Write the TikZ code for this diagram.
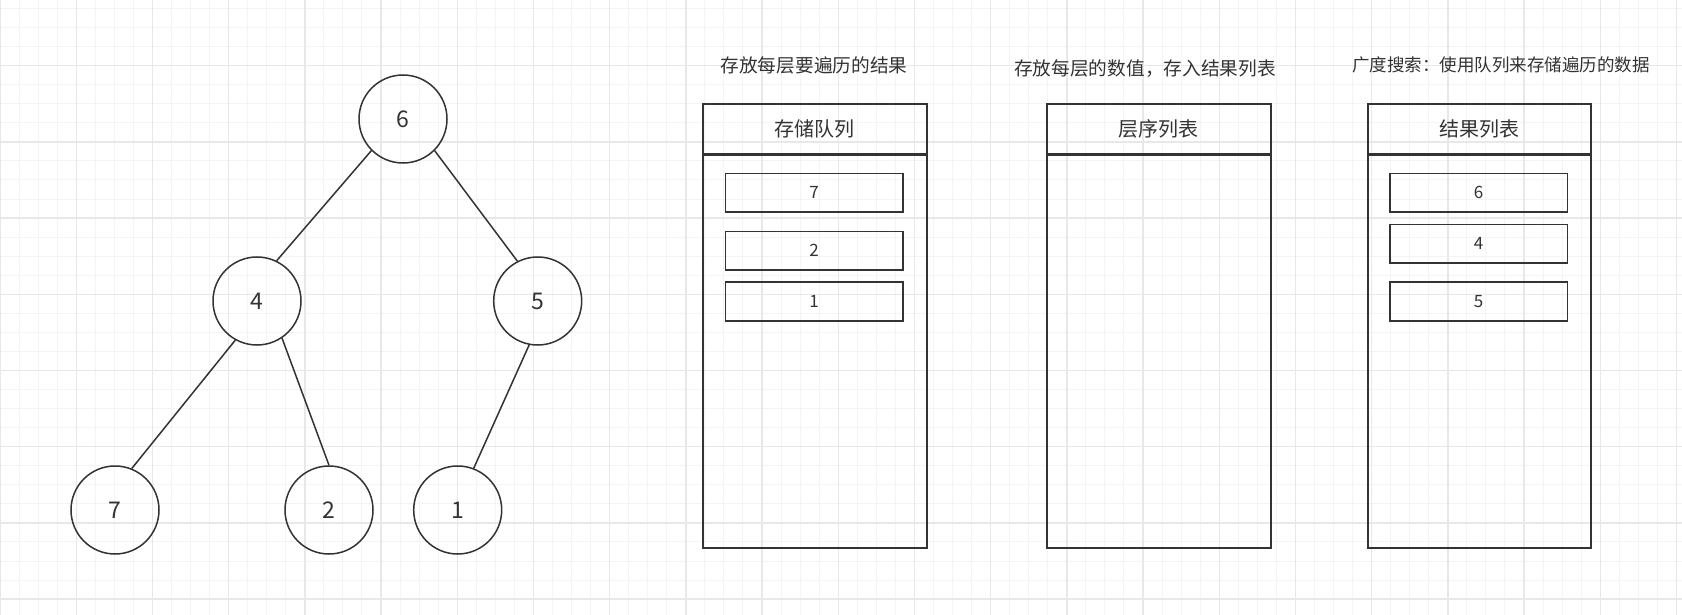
\documentclass[tikz,border=0pt]{standalone}
\usepackage{fontspec}
\setmainfont{Noto Sans CJK SC}
\definecolor{ink}{HTML}{333333}
\definecolor{gminor}{HTML}{F4F4F4}
\definecolor{gmajor}{HTML}{E8E8E8}
\begin{document}
\begin{tikzpicture}[x=1pt,y=-1pt,
  treenode/.style={circle, draw=ink, line width=1.5pt, minimum size=88pt, inner sep=0pt, font=\fontsize{23}{23}\selectfont, text=ink},
  edge/.style={draw=ink, line width=1.5pt},
  panel/.style={rectangle, draw=ink, line width=2.4pt, minimum width=223.5pt, inner sep=0pt, anchor=north west},
  item/.style={rectangle, draw=ink, line width=1.7pt, minimum width=177.7pt, minimum height=38.5pt, inner sep=0pt, font=\fontsize{17}{17}\selectfont, text=ink},
  title/.style={font=\fontsize{18.7}{18.7}\selectfont, text=ink, inner sep=0pt},
  header/.style={font=\fontsize{20}{20}\selectfont, text=ink},
  gminorline/.style={draw=gminor, line width=1pt},
  gmajorline/.style={draw=gmajor, line width=1.4pt}]
\useasboundingbox (0,0) rectangle (1682,615);
\fill[white] (0,0) rectangle (1682,615);
% grid
\foreach \i in {0,...,88} {\draw[gminorline] (\i*19.05,0) -- (\i*19.05,615);}
\foreach \j in {0,...,32} {\draw[gminorline] (0,8.55+\j*19.05) -- (1682,8.55+\j*19.05);}
\foreach \i in {0,...,22} {\draw[gmajorline] (\i*76.2,0) -- (\i*76.2,615);}
\foreach \j in {0,...,8} {\draw[gmajorline] (0,-10.5+\j*76.2) -- (1682,-10.5+\j*76.2);}

% tree
\node[treenode] (n6) at (403,119) {6};
\node[treenode] (n4) at (257,301) {4};
\node[treenode] (n5) at (537.7,301) {5};
\node[treenode] (n7) at (115,510) {7};
\node[treenode] (n2) at (329,510) {2};
\node[treenode] (n1) at (457.7,510) {1};
\draw[edge] (n6.225) -- (n4.64);
\draw[edge] (n6.-45) -- (n5.117);
\draw[edge] (n4.241) -- (n7.68);
\draw[edge] (n4.-56) -- (n2.90);
\draw[edge] (n5.259) -- (n1.69);

% panel 1
\node[title] (t1) at (814,65.5) {存放每层要遍历的结果};
\node[panel, minimum height=50.3pt, header] (h1) at (702,103) {存储队列};
\node[panel, minimum height=393.2pt] (b1) at (702,153.3) {};
\node[item] (q7) at (814.2,192.8) {7};
\node[item] (q2) at (814.2,250.8) {2};
\node[item] (q1) at (814.2,301.4) {1};

% panel 2
\node[title] (t2) at (1145,69) {存放每层的数值，存入结果列表};
\node[panel, minimum height=50.3pt, header] (h2) at (1046,103) {层序列表};
\node[panel, minimum height=393.2pt] (b2) at (1046,153.3) {};

% panel 3
\node[title, font=\fontsize{17.5}{17.5}\selectfont] (t3) at (1501,65) {广度搜索：使用队列来存储遍历的数据};
\node[panel, minimum height=50.3pt, header] (h3) at (1366.5,103) {结果列表};
\node[panel, minimum height=393.2pt] (b3) at (1366.5,153.3) {};
\node[item] (r6) at (1478.7,192.8) {6};
\node[item] (r4) at (1478.7,243.8) {4};
\node[item] (r5) at (1478.7,301.5) {5};
\end{tikzpicture}
\end{document}
